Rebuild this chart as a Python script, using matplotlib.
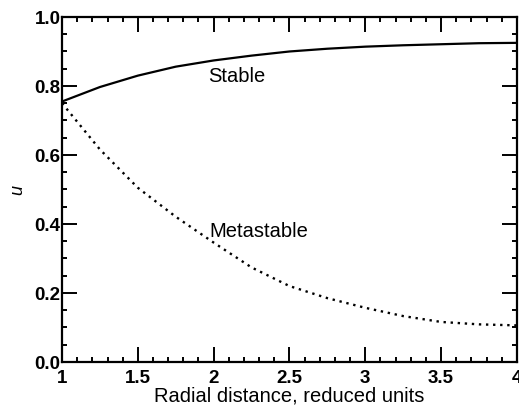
import numpy as np
import matplotlib
matplotlib.use("Agg")
import matplotlib.pyplot as plt
from matplotlib.ticker import MultipleLocator

plt.rcParams["font.family"] = ["Liberation Sans", "DejaVu Sans"]

# radial distance (reduced units) and the two solution branches
r = [1.0, 1.25, 1.5, 1.75, 2.0, 2.25, 2.5, 2.75, 3.0, 3.25, 3.5, 3.75, 4.0]
u_stable = [0.755, 0.797, 0.830, 0.856, 0.874, 0.888, 0.900, 0.908, 0.914, 0.918, 0.921, 0.924, 0.925]
u_meta = [0.750, 0.616, 0.505, 0.421, 0.346, 0.274, 0.220, 0.185, 0.157, 0.133, 0.116, 0.109, 0.106]

x_ticks = [1, 1.5, 2, 2.5, 3, 3.5, 4]
x_ticklabels = ["1", "1.5", "2", "2.5", "3", "3.5", "4"]
y_ticks = [0.0, 0.2, 0.4, 0.6, 0.8, 1.0]
y_ticklabels = ["0.0", "0.2", "0.4", "0.6", "0.8", "1.0"]

fig = plt.figure(figsize=(5.19, 4.06), dpi=100)
ax = fig.add_axes([0.1195, 0.106, 0.8765, 0.8497])

ax.plot(r, u_stable, color="black", lw=1.6, solid_capstyle="butt")
ax.plot(r, u_meta, color="black", lw=1.7, linestyle=(0, (1, 2.0)))

ax.text(2.15, 0.83, "Stable", fontsize=14.5, ha="center", va="center")
ax.text(2.30, 0.38, "Metastable", fontsize=14.5, ha="center", va="center")

ax.set_xlim(1, 4)
ax.set_ylim(0, 1)
ax.set_xticks(x_ticks)
ax.set_xticklabels(x_ticklabels)
ax.set_yticks(y_ticks)
ax.set_yticklabels(y_ticklabels)
ax.xaxis.set_minor_locator(MultipleLocator(0.1))
ax.yaxis.set_minor_locator(MultipleLocator(0.05))

ax.tick_params(which="both", direction="in", top=True, right=True, width=1.4, colors="black")
ax.tick_params(which="major", length=11, labelsize=13.5)
ax.tick_params(which="minor", length=3.8)
ax.tick_params(axis="x", which="major", pad=5)
ax.tick_params(axis="y", which="major", pad=1)
for lab in ax.get_xticklabels() + ax.get_yticklabels():
    lab.set_fontweight("bold")

for sp in ax.spines.values():
    sp.set_linewidth(1.6)

ax.set_xlabel("Radial distance, reduced units", fontsize=14.5, labelpad=0)
ax.set_ylabel("u", fontsize=13, style="italic", labelpad=6)

fig.savefig("out.png", dpi=100)
